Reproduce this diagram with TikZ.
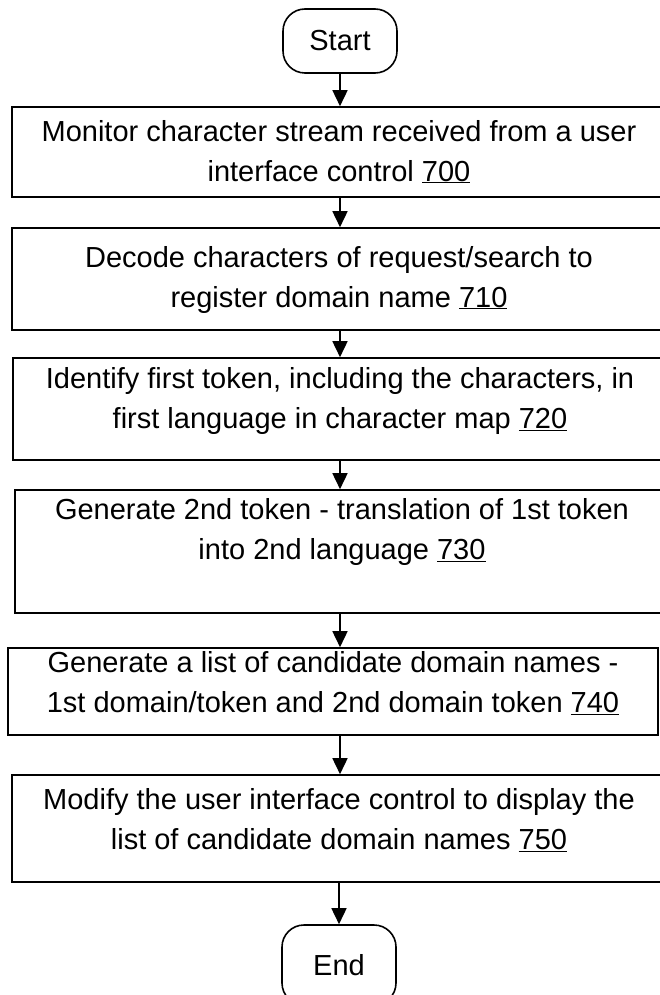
\documentclass[tikz,border=0pt]{standalone}
\usepackage{fontspec}
\setmainfont{Liberation Sans}
\usetikzlibrary{arrows.meta}

% text of a step, pushed to the top of a box of fixed height
\newcommand{\steptext}[3]{\parbox[c][#1][t]{636pt}{\centering\vspace*{#2}#3}}

\begin{document}
\begin{tikzpicture}[x=1pt, y=-1pt,
  every node/.style={font=\fontsize{29}{40}\selectfont},
  terminal/.style={draw, line width=1.6pt, rounded corners=22pt, minimum width=114pt, minimum height=64pt, inner sep=0pt},
  stepbox/.style={draw, line width=1.6pt, minimum width=654pt, inner sep=0pt},
  flow/.style={line width=1.6pt, -{Triangle[length=16pt,width=15pt]}}]
\useasboundingbox (0,0) rectangle (660,995);

\node[terminal] (start) at (340,41) {Start};
\node[stepbox] (s700) at (339,152) {\steptext{90pt}{13pt}{Monitor character stream received from a user\\ interface control \underline{700}}};
\node[stepbox] (s710) at (339,279) {\steptext{102pt}{18pt}{Decode characters of request/search to\\ register domain name \underline{710}}};
\node[stepbox] (s720) at (340,409) {\steptext{102pt}{9pt}{Identify first token, including the characters, in\\ first language in character map \underline{720}}};
\node[stepbox] (s730) at (342,551.5) {\steptext{123pt}{8pt}{Generate 2nd token - translation of 1st token\\ into 2nd language \underline{730}}};
\node[stepbox, minimum width=650pt] (s740) at (333,691.5) {\steptext{87pt}{3pt}{Generate a list of candidate domain names -\\ 1st domain/token and 2nd domain token \underline{740}}};
\node[stepbox] (s750) at (339,828.5) {\steptext{107pt}{13pt}{Modify the user interface control to display the\\ list of candidate domain names \underline{750}}};
\node[terminal, minimum height=80pt] (end) at (339,965) {End};

\draw[flow] (start) -- (start |- s700.north);
\draw[flow] (s700.south -| start) -- (s710.north -| start);
\draw[flow] (s710.south -| start) -- (s720.north -| start);
\draw[flow] (s720.south -| start) -- (s730.north -| start);
\draw[flow] (s730.south -| start) -- (s740.north -| start);
\draw[flow] (s740.south -| start) -- (s750.north -| start);
\draw[flow] (s750.south -| end) -- (end);
\end{tikzpicture}
\end{document}
